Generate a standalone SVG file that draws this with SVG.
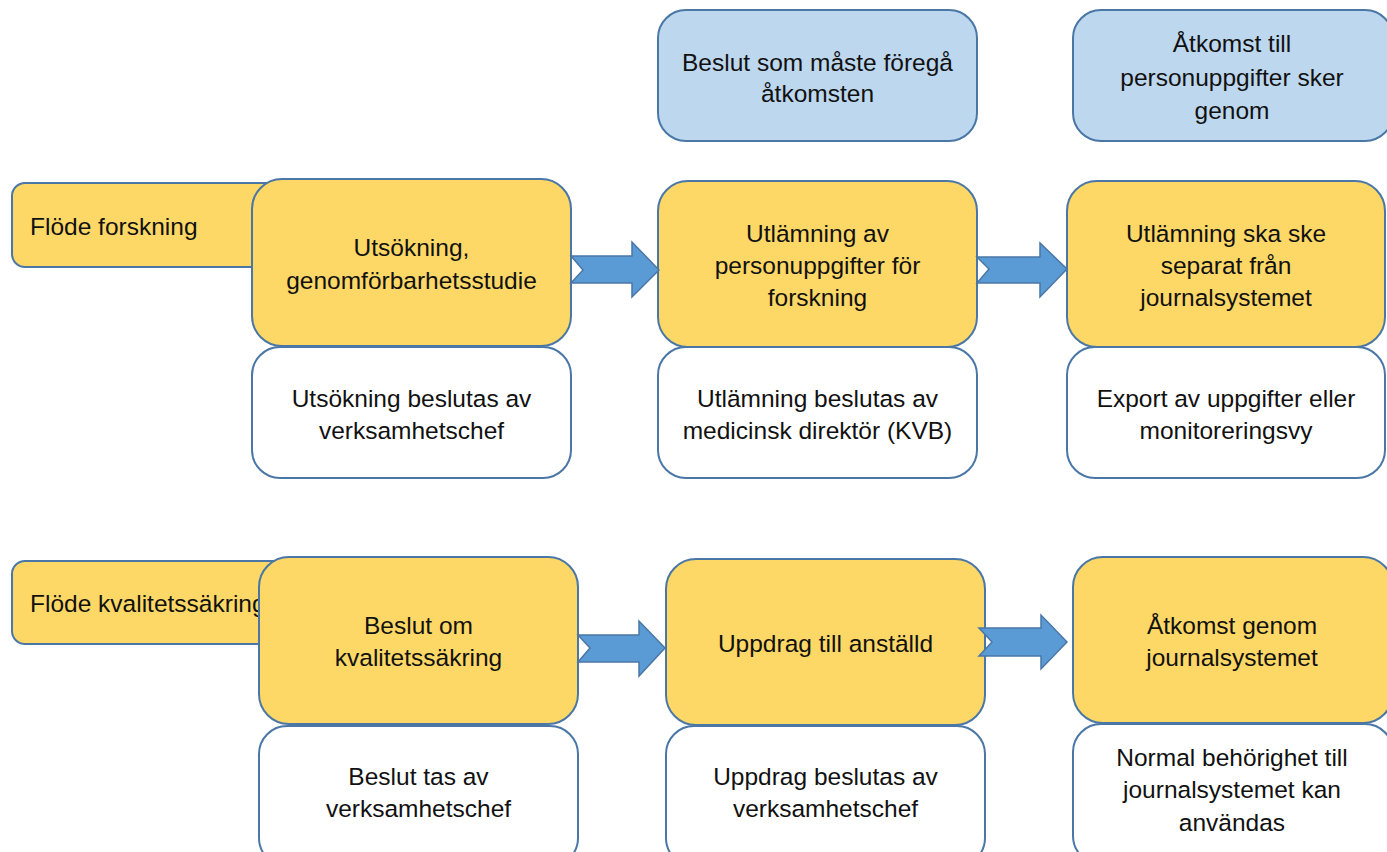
<svg xmlns="http://www.w3.org/2000/svg" width="1387" height="852" viewBox="0 0 1387 852">
<style>
.y{fill:#FDD866;stroke:#4A77A6;stroke-width:2}
.w{fill:#FFFFFF;stroke:#4A77A6;stroke-width:2}
.b{fill:#BDD7EE;stroke:#4A77A6;stroke-width:2}
.a{fill:#5B9BD5;stroke:#4A77A6;stroke-width:1.5}
text{font-family:"Liberation Sans",Arial,sans-serif;font-size:24.5px;fill:#111}
.c{text-anchor:middle}
</style>
<rect width="1387" height="852" fill="#FFFFFF"/>
<g id="flode-forskning"><rect class="y" x="12" y="183" width="280" height="84" rx="13"/><text x="30" y="235">Flöde forskning</text></g>
<g id="flode-kvalitet"><rect class="y" x="12" y="561" width="280" height="83" rx="13"/><text x="30" y="612">Flöde kvalitetssäkring</text></g>
<g id="head1"><rect class="b" x="658" y="10" width="319" height="131" rx="28"/><text class="c" x="817.5" y="71">Beslut som måste föregå</text><text class="c" x="817.5" y="102">åtkomsten</text></g>
<g id="head2"><rect class="b" x="1073" y="10" width="320" height="131" rx="28"/><text class="c" x="1232" y="52">Åtkomst till</text><text class="c" x="1232" y="86">personuppgifter sker</text><text class="c" x="1232" y="119">genom</text></g>
<g id="utsokning"><rect class="y" x="252" y="179" width="319" height="167" rx="30"/><text class="c" x="411.5" y="256">Utsökning,</text><text class="c" x="411.5" y="289">genomförbarhetsstudie</text></g>
<g id="utsokning-beslut"><rect class="w" x="252" y="347" width="319" height="131" rx="28"/><text class="c" x="411.5" y="407">Utsökning beslutas av</text><text class="c" x="411.5" y="439">verksamhetschef</text></g>
<g id="utlamning"><rect class="y" x="658" y="181" width="319" height="166" rx="30"/><text class="c" x="817.5" y="242">Utlämning av</text><text class="c" x="817.5" y="274">personuppgifter för</text><text class="c" x="817.5" y="306">forskning</text></g>
<g id="utlamning-beslut"><rect class="w" x="658" y="347" width="319" height="131" rx="28"/><text class="c" x="817.5" y="407">Utlämning beslutas av</text><text class="c" x="817.5" y="439">medicinsk direktör (KVB)</text></g>
<g id="separat"><rect class="y" x="1067" y="181" width="318" height="166" rx="30"/><text class="c" x="1226" y="242">Utlämning ska ske</text><text class="c" x="1226" y="274">separat från</text><text class="c" x="1226" y="306">journalsystemet</text></g>
<g id="export"><rect class="w" x="1067" y="347" width="318" height="131" rx="28"/><text class="c" x="1226" y="407">Export av uppgifter eller</text><text class="c" x="1226" y="439">monitoreringsvy</text></g>
<g id="beslut-om"><rect class="y" x="259" y="557" width="319" height="167" rx="30"/><text class="c" x="418.5" y="634">Beslut om</text><text class="c" x="418.5" y="666">kvalitetssäkring</text></g>
<g id="beslut-tas"><rect class="w" x="259" y="726" width="319" height="140" rx="28"/><text class="c" x="418.5" y="785">Beslut tas av</text><text class="c" x="418.5" y="817">verksamhetschef</text></g>
<g id="uppdrag"><rect class="y" x="666" y="559" width="319" height="166" rx="30"/><text class="c" x="825.5" y="652">Uppdrag till anställd</text></g>
<g id="uppdrag-beslut"><rect class="w" x="666" y="726" width="319" height="140" rx="28"/><text class="c" x="825.5" y="785">Uppdrag beslutas av</text><text class="c" x="825.5" y="817">verksamhetschef</text></g>
<g id="atkomst"><rect class="y" x="1073" y="557" width="320" height="166" rx="30"/><text class="c" x="1232" y="634">Åtkomst genom</text><text class="c" x="1232" y="666">journalsystemet</text></g>
<g id="normal"><rect class="w" x="1073" y="724" width="320" height="140" rx="28"/><text class="c" x="1232" y="766">Normal behörighet till</text><text class="c" x="1232" y="798">journalsystemet kan</text><text class="c" x="1232" y="831">användas</text></g>
<g id="connectors">
<polygon class="a" points="571,256 632,256 632,242 659,270 632,297 632,283 571,283 583,270"/>
<polygon class="a" points="977,257 1040,257 1040,243 1067,269 1040,297 1040,283 977,283 989,269"/>
<polygon class="a" points="578,635 639,635 639,621 665,648 639,676 639,662 578,662 590,648"/>
<polygon class="a" points="979,628 1041,628 1041,615 1067,642 1041,669 1041,656 979,656 992,642"/>
</g>
</svg>
